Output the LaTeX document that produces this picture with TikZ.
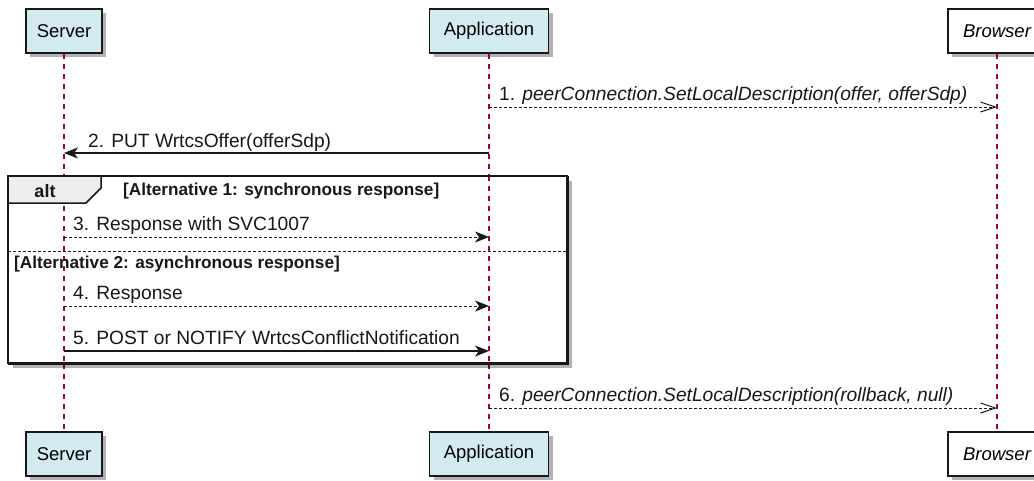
\documentclass[tikz,border=0pt]{standalone}
\usepackage{fontspec}
\setmainfont{Liberation Sans}
\usetikzlibrary{arrows.meta,shadows}
\definecolor{life}{HTML}{A80036}
\definecolor{partfill}{HTML}{D3EAF0}
\definecolor{ink}{HTML}{181818}
\definecolor{tabfill}{HTML}{EEEEEE}
\tikzset{
  part/.style={draw=ink, line width=1.5pt, fill=partfill, minimum height=44pt, inner sep=0pt,
    font=\fontsize{18.5}{20}\selectfont,
    drop shadow={shadow xshift=4pt, shadow yshift=-4pt, opacity=0.3, fill=black}},
  whitepart/.style={part, fill=white, font=\fontsize{18.5}{20}\selectfont\itshape},
  lifeline/.style={draw=life, line width=1.3pt, dash pattern=on 5pt off 5pt},
  msgsolid/.style={draw=ink, line width=1.2pt, -{Stealth[length=14pt,width=11pt,inset=4pt]}},
  msgdash/.style={draw=ink, line width=1pt, dash pattern=on 3pt off 2pt, -{Stealth[length=14pt,width=11pt,inset=4pt,line width=1pt]}},
  msgopen/.style={draw=ink, line width=1pt, dash pattern=on 3pt off 2pt, -{Straight Barb[length=15pt,width=10pt,line width=1pt]}},
  msglabel/.style={anchor=base west, inner sep=0pt, font=\fontsize{19.2}{21}\selectfont, text=ink},
  framebox/.style={draw=ink, line width=2pt, inner sep=0pt,
    drop shadow={shadow xshift=4pt, shadow yshift=-4pt, opacity=0.3, fill=black}},
  altlabel/.style={anchor=base west, inner sep=0pt, font=\fontsize{17.2}{19}\selectfont\bfseries, text=ink},
  separator/.style={draw=ink, line width=1pt, dash pattern=on 3pt off 2pt}
}
\begin{document}
\begin{tikzpicture}[x=1pt,y=-1pt]
\useasboundingbox (0,0) rectangle (1034,480);
\clip (0,0) rectangle (1034,480);
\fill[white] (0,0) rectangle (1034,480);

% participants
\node[part, minimum width=76pt] (sTop) at (64,31) {Server};
\node[part, minimum width=119pt] (aTop) at (489,31) {Application};
\node[whitepart, minimum width=98pt] (bTop) at (997,31) {Browser};
\node[part, minimum width=76pt] (sBot) at (64,454) {Server};
\node[part, minimum width=119pt] (aBot) at (489,454) {Application};
\node[whitepart, minimum width=98pt] (bBot) at (997,454) {Browser};

% lifelines
\draw[lifeline] (sTop.south) -- (sBot.north);
\draw[lifeline] (aTop.south) -- (aBot.north);
\draw[lifeline] (bTop.south) -- (bBot.north);

% alt frame
\node[framebox, fill=white, fill opacity=0, minimum width=559pt, minimum height=187pt, anchor=north west] (altframe) at (8,176) {};
\fill[white] (8,176) rectangle (567,363);
\draw[lifeline] (64,176) -- (64,363);
\draw[lifeline] (489,176) -- (489,363);
\draw[draw=ink, line width=1.5pt, fill=tabfill] (8,176) -- (101,176) -- (101,188) -- (86,203) -- (8,203) -- cycle;
\draw[draw=ink, line width=2pt] (8,176) rectangle (567,363);
\node[anchor=base, inner sep=0pt, font=\fontsize{18}{20}\selectfont\bfseries, text=ink] (altword) at (45,197) {alt};
\node[altlabel] (alt1) at (123,195) {[Alternative 1: synchronous response]};
\coordinate (sepL) at (8,251);
\coordinate (sepR) at (567,251);
\draw[separator] (sepL) -- (sepR);
\node[altlabel] (alt2) at (14,268) {[Alternative 2: asynchronous response]};

% message anchor points
\coordinate (a1) at (489,107); \coordinate (b1) at (997,107);
\coordinate (a2) at (489,153); \coordinate (s2) at (64,153);
\coordinate (s3) at (64,237); \coordinate (a3) at (489,237);
\coordinate (s4) at (64,306); \coordinate (a4) at (489,306);
\coordinate (s5) at (64,351); \coordinate (a5) at (489,351);
\coordinate (a6) at (489,408); \coordinate (b6) at (997,408);

\draw[msgopen] (a1) -- (b1);
\node[msglabel] (l1) at (499,100) {1. \textit{peerConnection.SetLocalDescription(offer, offerSdp)}};
\draw[msgsolid] (a2) -- (s2);
\node[msglabel] (l2) at (88,147) {2. PUT WrtcsOffer(offerSdp)};
\draw[msgdash] (s3) -- (a3);
\node[msglabel] (l3) at (73,230) {3. Response with SVC1007};
\draw[msgdash] (s4) -- (a4);
\node[msglabel] (l4) at (73,299) {4. Response};
\draw[msgsolid] (s5) -- (a5);
\node[msglabel] (l5) at (73,344) {5. POST or NOTIFY WrtcsConflictNotification};
\draw[msgopen] (a6) -- (b6);
\node[msglabel] (l6) at (499,401) {6. \textit{peerConnection.SetLocalDescription(rollback, null)}};
\end{tikzpicture}
\end{document}
